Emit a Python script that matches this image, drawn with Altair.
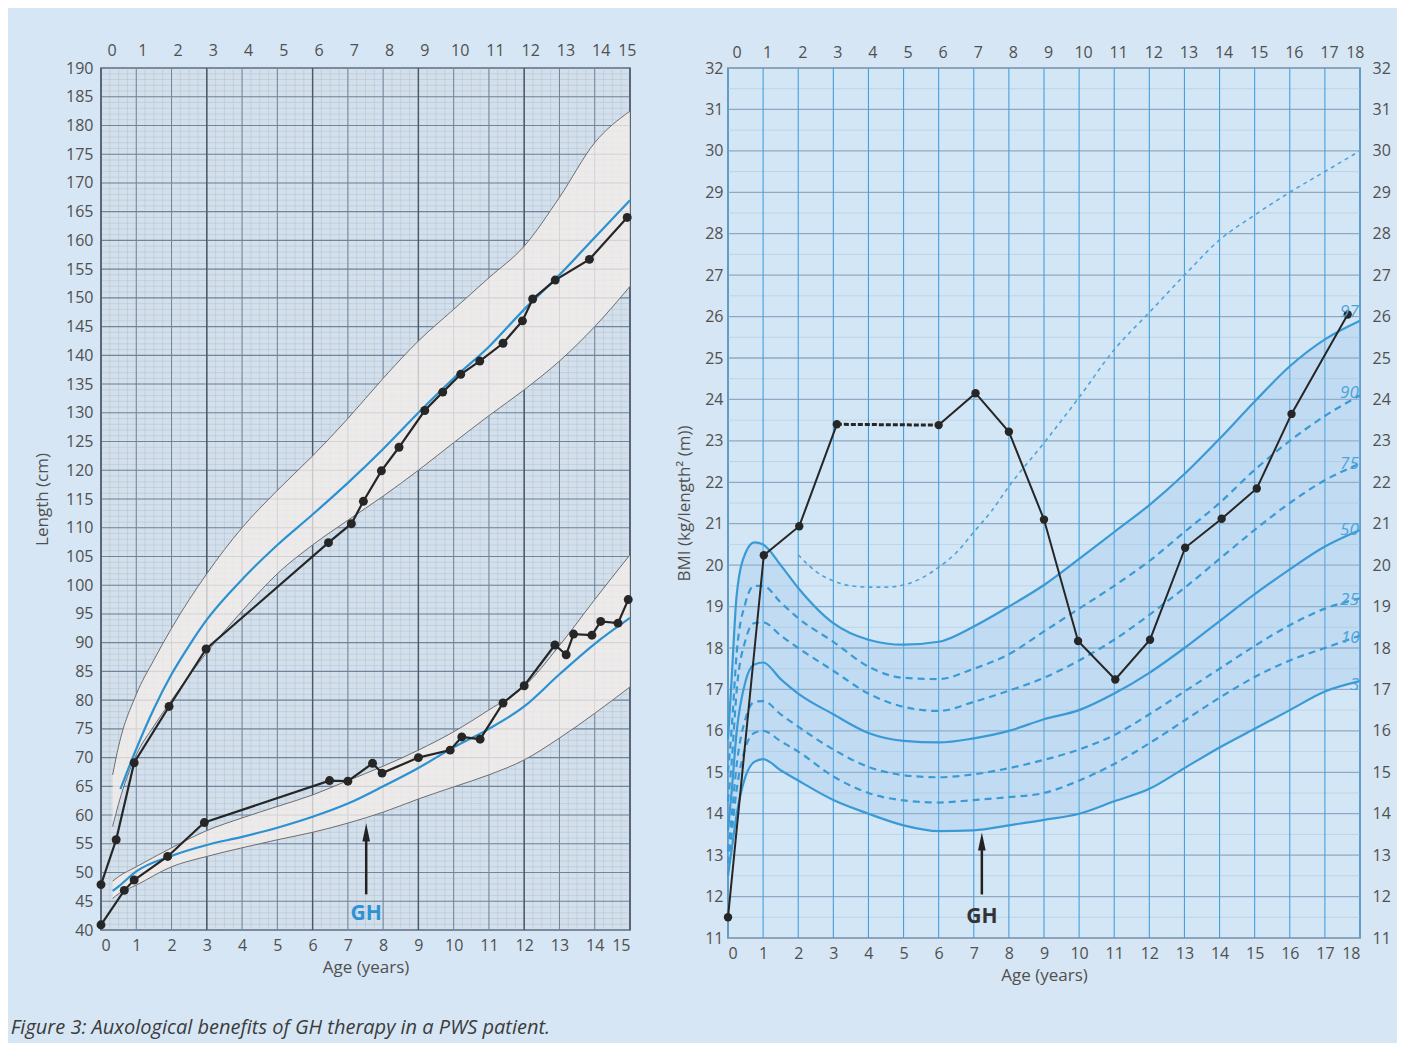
import altair as alt
import numpy as np
import pandas as pd

FONT = "Open Sans"
LABEL = "#505050"

# ---------------- left panel: length chart ----------------
up_age = [0.33, 0.5, 1, 1.5, 2, 3, 4, 5, 6, 7, 8, 9, 10, 11, 12, 13, 14, 15]
up_hi = [67, 72, 81, 87, 92.5, 102, 110, 116.5, 122.5, 129, 136, 142.5, 148, 153.5, 159, 167.5, 177, 182.5]
up_lo = [58, 62, 70.5, 75.5, 80, 88.3, 95.5, 102, 107, 111.3, 115.5, 120, 124.8, 129.5, 134, 139, 145, 152]
upmid_age = [0.55, 1, 1.5, 2, 2.5, 3, 4, 5, 6, 7, 8, 9, 10, 11, 12, 13, 14, 15]
upmid = [64.5, 71.5, 78.5, 84.5, 89.5, 94, 101, 107, 112.3, 117.8, 123.7, 130, 136, 141.5, 148, 154, 160.5, 167]

low_age = [0.33, 0.5, 1, 2, 3, 4, 5, 6, 7, 8, 9, 10, 11, 12, 13, 14, 15]
low_hi = [48.5, 49.3, 51, 54.3, 57.3, 59.5, 61.5, 63.5, 66, 68.5, 71.3, 74.5, 78.3, 82.4, 89.5, 97.5, 105.3]
low_mid = [46.8, 47.6, 50.2, 52.9, 54.8, 56.2, 57.8, 59.7, 62, 65, 68.2, 71.8, 75, 78.9, 84.5, 89.8, 94.3]
low_lo = [45.5, 46.3, 47.8, 51, 52.8, 54.3, 55.7, 57, 58.6, 60.5, 62.8, 64.9, 67, 69.6, 73.4, 77.7, 82.3]

pu_age = [0, 0.43, 0.94, 1.93, 2.98, 6.45, 7.1, 7.44, 7.95, 8.45, 9.18, 9.69, 10.2, 10.74, 11.4, 11.95, 12.24, 12.88, 13.85, 14.92]
pu_len = [47.9, 55.7, 69.1, 78.9, 88.9, 107.4, 110.7, 114.6, 119.9, 124.0, 130.4, 133.6, 136.7, 139.0, 142.1, 146.0, 149.8, 153.1, 156.7, 164.0]

pl_age = [0, 0.66, 0.94, 1.89, 2.93, 6.48, 7.0, 7.7, 7.97, 9.0, 9.9, 10.23, 10.75, 11.4, 12.0, 12.87, 13.19, 13.4, 13.92, 14.17, 14.66, 14.95]
pl_len = [40.9, 46.9, 48.7, 52.8, 58.7, 66.0, 65.9, 69.0, 67.3, 70.0, 71.3, 73.6, 73.2, 79.5, 82.5, 89.6, 87.9, 91.5, 91.3, 93.7, 93.4, 97.5]

gh_left = {"age": [7.52], "start": [46.2], "tip": [58.6], "label_y": [42.7]}

# ---------------- right panel: BMI chart ----------------
bmi_age = [0, 0.1, 0.25, 0.5, 0.75, 1, 1.5, 2, 3, 4, 5, 6, 7, 8, 9, 10, 11, 12, 13, 14, 15, 16, 17, 18]
p97 = [15.8, 17.2, 19.3, 20.3, 20.55, 20.5, 20.0, 19.45, 18.6, 18.2, 18.08, 18.15, 18.52, 19.0, 19.52, 20.15, 20.8, 21.45, 22.2, 23.05, 23.95, 24.8, 25.45, 25.9]
p90 = [15.0, 16.0, 17.9, 19.1, 19.5, 19.5, 19.1, 18.72, 18.15, 17.55, 17.28, 17.25, 17.5, 17.85, 18.4, 18.95, 19.5, 20.1, 20.8, 21.5, 22.3, 23.0, 23.6, 24.1]
p75 = [14.3, 15.2, 17.0, 18.2, 18.6, 18.62, 18.3, 18.0, 17.45, 16.9, 16.58, 16.48, 16.7, 16.97, 17.28, 17.7, 18.2, 18.8, 19.45, 20.15, 20.85, 21.5, 22.05, 22.45]
p50 = [13.6, 14.5, 16.0, 17.2, 17.6, 17.65, 17.25, 16.9, 16.4, 15.95, 15.76, 15.72, 15.82, 16.0, 16.28, 16.5, 16.9, 17.4, 18.0, 18.65, 19.3, 19.9, 20.45, 20.85]
p25 = [13.1, 13.9, 15.2, 16.3, 16.7, 16.72, 16.4, 16.1, 15.55, 15.13, 14.93, 14.88, 14.95, 15.1, 15.3, 15.55, 15.9, 16.4, 16.95, 17.5, 18.05, 18.55, 18.95, 19.2]
p10 = [12.8, 13.5, 14.6, 15.6, 15.95, 16.0, 15.75, 15.5, 14.9, 14.5, 14.32, 14.27, 14.33, 14.4, 14.5, 14.8, 15.2, 15.7, 16.25, 16.8, 17.3, 17.7, 18.0, 18.3]
p3 = [12.5, 13.1, 14.0, 14.9, 15.25, 15.32, 15.05, 14.8, 14.33, 14.0, 13.72, 13.58, 13.6, 13.72, 13.85, 14.0, 14.3, 14.6, 15.1, 15.6, 16.05, 16.5, 16.95, 17.2]

top_age = [2, 2.5, 3, 3.5, 4, 4.5, 5, 5.5, 6, 6.5, 7, 7.5, 8, 9, 10, 11, 12, 13, 14, 15, 16, 17, 18]
top_val = [20.25, 19.85, 19.62, 19.5, 19.47, 19.47, 19.52, 19.68, 19.95, 20.3, 20.8, 21.3, 21.9, 22.95, 24.05, 25.2, 26.1, 27.0, 27.85, 28.45, 29.0, 29.5, 30.0]

pb_age = [0, 1.02, 2.03, 3.1, 6.0, 7.05, 8.0, 9.0, 9.97, 11.03, 12.02, 13.02, 14.06, 15.06, 16.05, 17.65]
pb_val = [11.5, 20.24, 20.94, 23.4, 23.38, 24.15, 23.22, 21.1, 18.17, 17.24, 18.2, 20.42, 21.12, 21.85, 23.65, 26.05]

pct_names = ["97", "90", "75", "50", "25", "10", "3"]
pct_label_x = [17.7, 17.7, 17.7, 17.7, 17.7, 17.72, 17.85]
pct_label_y = [26.1, 24.15, 22.45, 20.85, 19.15, 18.25, 17.1]

gh_right = {"age": [7.23], "start": [12.05], "tip": [13.55], "label_y": [11.5]}

# ---------------- helpers ----------------
def vrule(vals, color, w, xs):
    return alt.Chart(pd.DataFrame({"v": list(vals)})).mark_rule(color=color, strokeWidth=w).encode(
        x=alt.X("v:Q", scale=xs, axis=None))


def hrule(vals, color, w, ys):
    return alt.Chart(pd.DataFrame({"v": list(vals)})).mark_rule(color=color, strokeWidth=w).encode(
        y=alt.Y("v:Q", scale=ys, axis=None))


ARROW = "M0,-1L0.42,1L-0.42,1Z"

# ================= LEFT =================
xs_l = alt.Scale(domain=[0, 15], nice=False, zero=False)
ys_l = alt.Scale(domain=[40, 190], nice=False, zero=False)

def XL(f):
    return alt.X(f, type="quantitative", scale=xs_l, axis=None)

def YL(f):
    return alt.Y(f, type="quantitative", scale=ys_l, axis=None)

up_df = pd.DataFrame({"age": up_age, "hi": up_hi, "lo": up_lo})
low_df = pd.DataFrame({"age": low_age, "hi": low_hi, "mid": low_mid, "lo": low_lo})
upmid_df = pd.DataFrame({"age": upmid_age, "mid": upmid})
pu_df = pd.DataFrame({"age": pu_age, "len": pu_len})
pl_df = pd.DataFrame({"age": pl_age, "len": pl_len})
ghl_df = pd.DataFrame(gh_left)
ghl_df["head"] = ghl_df["tip"] - 1.6
ghl_df["txt"] = "GH"

BAND = "#f5eeea"
band_up = alt.Chart(up_df).mark_area(color=BAND, opacity=0.75, interpolate="monotone").encode(
    x=XL("age"), y=YL("lo"), y2="hi")
band_low = alt.Chart(low_df).mark_area(color=BAND, opacity=0.75, interpolate="monotone").encode(
    x=XL("age"), y=YL("lo"), y2="hi")

gray_lines = []
for df_, col in [(up_df, "hi"), (up_df, "lo"), (low_df, "hi"), (low_df, "lo")]:
    gray_lines.append(alt.Chart(df_).mark_line(color="#6e6e6e", strokeWidth=1, interpolate="monotone").encode(
        x=XL("age"), y=YL(col)))
blue_up = alt.Chart(upmid_df).mark_line(color="#2a92d2", strokeWidth=2.2, interpolate="monotone").encode(
    x=XL("age"), y=YL("mid"))
blue_low = alt.Chart(low_df).mark_line(color="#2a92d2", strokeWidth=2.2, interpolate="monotone").encode(
    x=XL("age"), y=YL("mid"))

pat_layers = []
for df_ in (pu_df, pl_df):
    pat_layers.append(alt.Chart(df_).mark_line(color="#262626", strokeWidth=2.2).encode(x=XL("age"), y=YL("len")))
    pat_layers.append(alt.Chart(df_).mark_circle(color="#262626", size=80, opacity=1).encode(x=XL("age"), y=YL("len")))

ghl_rule = alt.Chart(ghl_df).mark_rule(color="#222222", strokeWidth=2.5).encode(x=XL("age"), y=YL("start"), y2="head")
ghl_head = alt.Chart(ghl_df).mark_point(shape=ARROW, size=330, filled=True, color="#222222", opacity=1).encode(
    x=XL("age"), y=YL("head"))
ghl_text = alt.Chart(ghl_df).mark_text(font=FONT, fontSize=21, fontWeight="bold", color="#2e93d6").encode(
    x=XL("age"), y=YL("label_y"), text="txt:N")

ax_l = pd.DataFrame({"age": [0, 15], "len": [40, 190]})
axis_bl = alt.Chart(ax_l).mark_point(opacity=0).encode(
    x=alt.X("age:Q", scale=xs_l, axis=alt.Axis(orient="bottom", values=list(range(16)), title="Age (years)",
                                                 labelPadding=7, titlePadding=6)),
    y=alt.Y("len:Q", scale=ys_l, axis=alt.Axis(orient="left", values=list(range(40, 191, 5)), title="Length (cm)",
                                                 labelPadding=8, titlePadding=14)))
axis_tl = alt.Chart(ax_l).mark_point(opacity=0).encode(
    x=alt.X("age:Q", scale=xs_l, axis=alt.Axis(orient="top", values=list(range(16)), title=None,
                                                 labelPadding=10, labelOffset=6)),
    y=alt.Y("len:Q", scale=ys_l, axis=None))

left = alt.layer(
    hrule(np.arange(40, 190.5, 1), "#b6c5d5", 0.6, ys_l),
    vrule(np.arange(0, 15.01, 0.25), "#b6c5d5", 0.6, xs_l),
    hrule(range(40, 191, 5), "#72849a", 1.1, ys_l),
    vrule(range(0, 16), "#72849a", 1.0, xs_l),
    vrule(range(0, 16, 3), "#4a5868", 1.4, xs_l),
    band_up, band_low, *gray_lines, blue_up, blue_low, *pat_layers,
    ghl_rule, ghl_head, ghl_text, axis_bl, axis_tl,
).resolve_axis(x="independent", y="independent").properties(
    width=529, height=862, view=alt.ViewBackground(fill="#d3e0ec", stroke="#4e5a66", strokeWidth=1.5))

# ================= RIGHT =================
xs_r = alt.Scale(domain=[0, 18], nice=False, zero=False)
ys_r = alt.Scale(domain=[11, 32], nice=False, zero=False)

def XR(f):
    return alt.X(f, type="quantitative", scale=xs_r, axis=None)

def YR(f):
    return alt.Y(f, type="quantitative", scale=ys_r, axis=None)

rows = []
for name, vals in zip(pct_names, [p97, p90, p75, p50, p25, p10, p3]):
    for a, v in zip(bmi_age, vals):
        rows.append({"age": a, "bmi": v, "pct": name})
pct_df = pd.DataFrame(rows)
solid_df = pct_df[pct_df["pct"].isin(["97", "50", "3"])]
dash_df = pct_df[pct_df["pct"].isin(["90", "75", "25", "10"])]
shade_df = pd.DataFrame({"age": bmi_age, "hi": p97, "lo": p3})
top_df = pd.DataFrame({"age": top_age, "bmi": top_val})
pb_df = pd.DataFrame({"age": pb_age, "bmi": pb_val})
seg = pd.Series(["a"] * 4 + ["b"] * (len(pb_age) - 4))
pb_line = pb_df.assign(seg=seg)
pb_gap = pb_df.iloc[3:5]
lab_df = pd.DataFrame({"age": pct_label_x, "bmi": pct_label_y, "txt": pct_names})
ghr_df = pd.DataFrame(gh_right)
ghr_df["head"] = ghr_df["tip"] - 0.22
ghr_df["txt"] = "GH"

CURVE = "#3a9ad6"
shade = alt.Chart(shade_df).mark_area(color="#8fbfe8", opacity=0.27, interpolate="monotone").encode(
    x=XR("age"), y=YR("lo"), y2="hi")
top_line = alt.Chart(top_df).mark_line(color="#4fa3dc", strokeWidth=1.6, strokeDash=[4, 4], interpolate="monotone").encode(
    x=XR("age"), y=YR("bmi"))
solid_lines = alt.Chart(solid_df).mark_line(color=CURVE, strokeWidth=2.2, interpolate="monotone").encode(
    x=XR("age"), y=YR("bmi"), detail="pct:N")
dash_lines = alt.Chart(dash_df).mark_line(color=CURVE, strokeWidth=2.2, strokeDash=[7, 5], interpolate="monotone").encode(
    x=XR("age"), y=YR("bmi"), detail="pct:N")
pb_l = alt.Chart(pb_line).mark_line(color="#262626", strokeWidth=2).encode(x=XR("age"), y=YR("bmi"), detail="seg:N")
pb_g = alt.Chart(pb_gap).mark_line(color="#262626", strokeWidth=3, strokeDash=[5, 2]).encode(x=XR("age"), y=YR("bmi"))
pb_p = alt.Chart(pb_df).mark_circle(color="#262626", size=70, opacity=1).encode(x=XR("age"), y=YR("bmi"))
labels = alt.Chart(lab_df).mark_text(font=FONT, fontSize=17, fontStyle="italic", color="#4aa3dc").encode(
    x=XR("age"), y=YR("bmi"), text="txt:N")
ghr_rule = alt.Chart(ghr_df).mark_rule(color="#222222", strokeWidth=2.5).encode(x=XR("age"), y=YR("start"), y2="head")
ghr_head = alt.Chart(ghr_df).mark_point(shape=ARROW, size=330, filled=True, color="#222222", opacity=1).encode(
    x=XR("age"), y=YR("head"))
ghr_text = alt.Chart(ghr_df).mark_text(font=FONT, fontSize=21, fontWeight="bold", color="#333333").encode(
    x=XR("age"), y=YR("label_y"), text="txt:N")

ax_r = pd.DataFrame({"age": [0, 18], "bmi": [11, 32]})
axis_blr = alt.Chart(ax_r).mark_point(opacity=0).encode(
    x=alt.X("age:Q", scale=xs_r, axis=alt.Axis(orient="bottom", values=list(range(19)), title="Age (years)",
                                                 labelPadding=7, titlePadding=6)),
    y=alt.Y("bmi:Q", scale=ys_r, axis=alt.Axis(orient="left", values=list(range(11, 33)),
                                                 title="BMI (kg/length² (m))", labelPadding=5, titlePadding=11)))
axis_trr = alt.Chart(ax_r).mark_point(opacity=0).encode(
    x=alt.X("age:Q", scale=xs_r, axis=alt.Axis(orient="top", values=list(range(19)), title=None,
                                                 labelPadding=8, labelOffset=4)),
    y=alt.Y("bmi:Q", scale=ys_r, axis=alt.Axis(orient="right", values=list(range(11, 33)), title=None,
                                                 labelPadding=12)))

right = alt.layer(
    hrule(np.arange(11.5, 32, 1), "#b8cfe2", 0.8, ys_r),
    hrule(range(11, 33), "#8eaac2", 1.3, ys_r),
    vrule(range(0, 19), "#45a0dc", 1.1, xs_r),
    shade, top_line, solid_lines, dash_lines, pb_l, pb_g, pb_p, labels,
    ghr_rule, ghr_head, ghr_text, axis_blr, axis_trr,
).resolve_axis(x="independent", y="independent").properties(
    width=632, height=870, view=alt.ViewBackground(fill="#d3e6f6", stroke="#6f7f8f", strokeWidth=1.5))

chart = alt.hconcat(left, right, spacing=37).properties(
    padding={"left": 2, "top": 33, "right": 5, "bottom": 5},
    background="#d6e6f4",
    title=alt.TitleParams(text="Figure 3: Auxological benefits of GH therapy in a PWS patient.",
                          orient="bottom", anchor="start", font=FONT, fontSize=20, fontStyle="italic",
                          fontWeight="normal", color="#3c3c3c", offset=34, dx=-22),
).configure_axis(
    labelFont=FONT, titleFont=FONT, labelColor=LABEL, titleColor=LABEL, labelFontSize=16,
    titleFontSize=17, titleFontWeight="normal", ticks=False, domain=False, grid=False, labelOverlap=False,
)

chart.save("out.html", embed_options={"renderer": "svg", "actions": False})
